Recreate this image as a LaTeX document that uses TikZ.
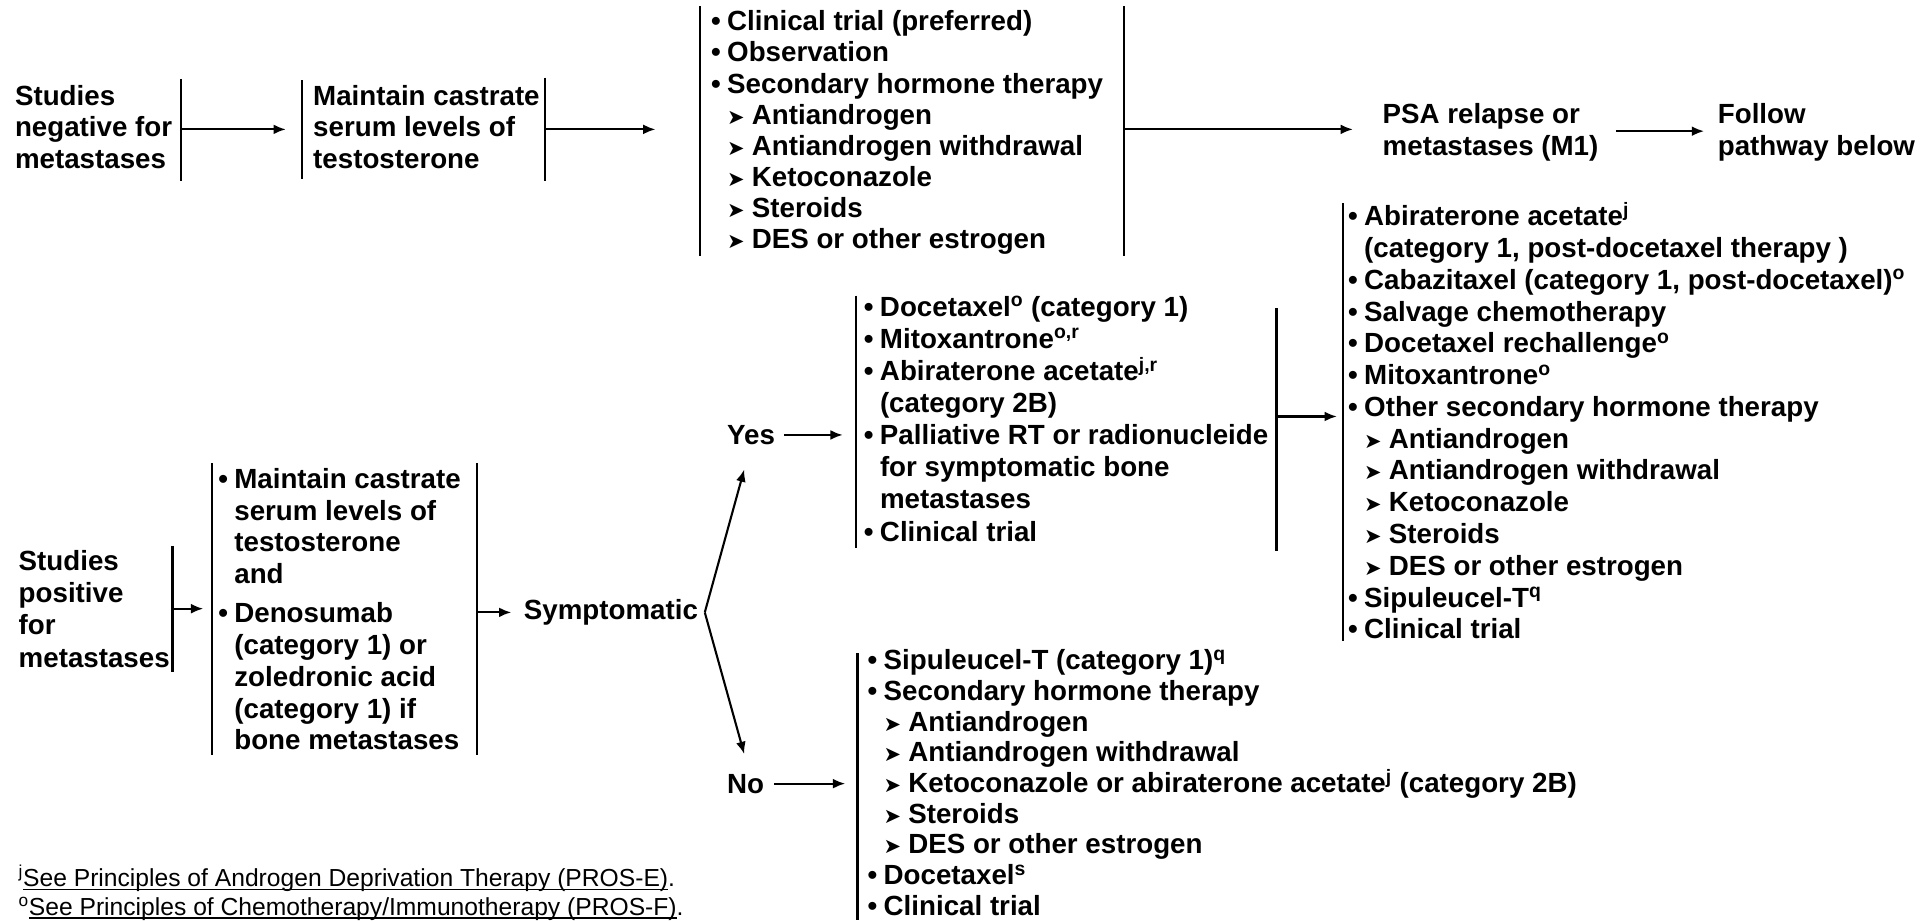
\documentclass[tikz,border=0pt]{standalone}
\usepackage{fontspec}
\setmainfont{Liberation Sans}
\newfontfamily\symfont{DejaVu Sans}
\usetikzlibrary{arrows.meta}

\newcommand{\bx}{\fontsize{22.5}{25.8}\selectfont\bfseries}
\newcommand{\fnfont}{\fontsize{20}{23}\selectfont}
\newcommand{\bul}{\makebox[13pt][l]{•}}
\newcommand{\cnt}{\hspace*{13pt}}
\newcommand{\sbl}{\hspace*{13pt}\makebox[20pt][l]{\symfont\fontsize{17}{17}\selectfont ➤}}
\newcommand{\sps}[1]{\textsuperscript{#1}}
\newcommand{\undl}[1]{\setbox0\hbox{#1}\rlap{\rule[-2.6pt]{\wd0}{1pt}}\box0}

\tikzset{
  txt/.style={anchor=north west, inner sep=0pt, align=left, font=\bx},
  lbl/.style={anchor=west, inner sep=0pt, font=\bx},
  bar/.style={line width=1.8pt},
  arr/.style={line width=1.7pt, -{Latex[length=10pt,width=8pt]}},
}

\begin{document}
\begin{tikzpicture}[x=1pt,y=-1pt]
  \useasboundingbox (0,0) rectangle (1568,747);
  % top row
  \node[txt] (neg) at (12,67) {\strut Studies\\negative for\\metastases};
  \draw[bar] (147,64) -- (147,147);
  \coordinate (neg-out) at (147,105);
  \node[txt] (mcs) at (254,67) {\strut Maintain castrate\\serum levels of\\testosterone};
  \draw[bar] (245,65) -- (245,145);
  \draw[bar] (442,63) -- (442,147);
  \coordinate (mcs-in) at (232,105);
  \coordinate (mcs-out) at (442,105);
  \draw[arr] (neg-out) -- (mcs-in);
  \node[txt,font={\fontsize{22.5}{25.3}\selectfont\bfseries}] (sht) at (577,7) {\strut\bul Clinical trial (preferred)\\\bul Observation\\\bul Secondary hormone therapy\\\sbl Antiandrogen\\\sbl Antiandrogen withdrawal\\\sbl Ketoconazole\\\sbl Steroids\\\sbl DES or other estrogen};
  \draw[bar] (568,5) -- (568,208);
  \draw[bar] (912,5) -- (912,208);
  \coordinate (sht-in) at (532,105);
  \coordinate (sht-out) at (912,105);
  \draw[arr] (mcs-out) -- (sht-in);
  \node[txt] (psa) at (1122,82) {\strut PSA relapse or\\metastases (M1)};
  \node[txt] (follow) at (1394,82) {\strut Follow\\pathway below};
  \coordinate (psa-in) at (1098,105);
  \draw[arr] (sht-out) -- (psa-in);
  \draw[arr] ([xshift=14pt]psa.east) -- ([xshift=-11pt]follow.west);

  % symptomatic branch
  \node[txt] (rlist) at (1094,164) {\strut\bul Abiraterone acetate\sps{j}\\\cnt (category 1, post-docetaxel therapy )\\\bul Cabazitaxel (category 1, post-docetaxel)\sps{o}\\\bul Salvage chemotherapy\\\bul Docetaxel rechallenge\sps{o}\\\bul Mitoxantrone\sps{o}\\\bul Other secondary hormone therapy\\\sbl Antiandrogen\\\sbl Antiandrogen withdrawal\\\sbl Ketoconazole\\\sbl Steroids\\\sbl DES or other estrogen\\\bul Sipuleucel-T\sps{q}\\\bul Clinical trial};
  \draw[bar] (1090,165) -- (1090,520);
  \coordinate (rl-in) at (1085,338);
  \node[txt,font={\fontsize{22.5}{26.1}\selectfont\bfseries}] (ylist) at (701,238) {\strut\bul Docetaxel\sps{o} (category 1)\\\bul Mitoxantrone\sps{o,r}\\\bul Abiraterone acetate\sps{j,r}\\\cnt (category 2B)\\\bul Palliative RT or radionucleide\\\cnt for symptomatic bone\\\cnt metastases\\\bul Clinical trial};
  \draw[bar] (695,240) -- (695,445);
  \draw[bar] (1036,250) -- (1036,447);
  \coordinate (yl-in) at (684,353);
  \coordinate (yl-out) at (1036,338);
  \draw[arr] (yl-out) -- (rl-in);
  \node[lbl] (yes) at (590,353) {Yes};
  \draw[arr] ([xshift=7pt]yes.east) -- (yl-in);

  % positive studies
  \node[txt,font={\fontsize{22.5}{26.3}\selectfont\bfseries}] (pos) at (15,444) {\strut Studies\\positive\\for\\metastases};
  \draw[bar] (140,443) -- (140,545);
  \coordinate (pos-out) at (140,494);
  \node[txt] (lbox) at (177,378) {\strut\bul Maintain castrate\\\cnt serum levels of\\\cnt testosterone\\\cnt and\\[6pt]\bul Denosumab\\\cnt (category 1) or\\\cnt zoledronic acid\\\cnt (category 1) if\\\cnt bone metastases};
  \draw[bar] (172,376) -- (172,613);
  \draw[bar] (387,376) -- (387,613);
  \coordinate (lbox-in) at (165,494);
  \coordinate (lbox-out) at (387,497);
  \draw[arr] (pos-out) -- (lbox-in);
  \node[lbl] (sym) at (425,497) {Symptomatic};
  \draw[arr] (lbox-out) -- ([xshift=-10pt]sym.west);
  \coordinate (fork) at (572,497);
  \coordinate (yes-tip) at (604,381);
  \coordinate (no-tip) at (604,612);
  \draw[arr] (fork) -- (yes-tip);
  \draw[arr] (fork) -- (no-tip);
  \node[lbl] (no) at (590,636) {No};
  \node[txt,font={\fontsize{22.5}{24.9}\selectfont\bfseries}] (nlist) at (704,526) {\strut\bul Sipuleucel-T (category 1)\sps{q}\\\bul Secondary hormone therapy\\\sbl Antiandrogen\\\sbl Antiandrogen withdrawal\\\sbl Ketoconazole or abiraterone acetate\sps{j} (category 2B)\\\sbl Steroids\\\sbl DES or other estrogen\\\bul Docetaxel\sps{s}\\\bul Clinical trial};
  \draw[bar] (696,530) -- (696,747);
  \coordinate (nl-in) at (686,636);
  \draw[arr] ([xshift=8pt]no.east) -- (nl-in);

  % footnotes
  \node[txt,font=\fnfont] (fn) at (15,702) {\strut\sps{j}\undl{See Principles of Androgen Deprivation Therapy (PROS-E)}.\\\sps{o}\undl{See Principles of Chemotherapy/Immunotherapy (PROS-F)}.};
\end{tikzpicture}
\end{document}
